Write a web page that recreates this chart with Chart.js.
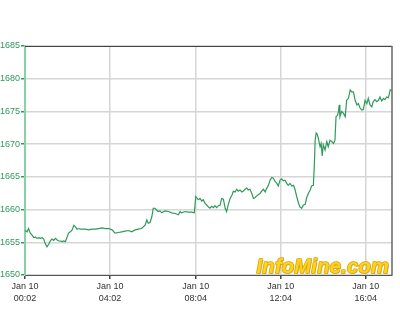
<!DOCTYPE html>
<html>
<head>
<meta charset="utf-8">
<script src="https://cdn.jsdelivr.net/npm/chart.js@4/dist/chart.umd.min.js"></script>
<style>
  body { margin: 0; background: #fff; }
  #wrap { width: 400px; height: 333px; position: relative; }
</style>
</head>
<body>
<div id="wrap"><canvas id="gold"></canvas></div>
<script>
// minutes after midnight, Jan 10
const times = [2, 8, 12, 17, 22, 27, 31, 36, 41, 45, 50, 55, 59, 64, 69, 73, 78, 83, 88, 92,
  97, 102, 107, 111, 116, 121, 125, 130, 135, 140, 144, 149, 154, 158, 163, 172, 182, 191, 201, 210,
  219, 229, 238, 248, 256, 265, 275, 284, 294, 303, 313, 322, 331, 341, 346, 350, 355, 360, 364, 369,
  374, 378, 383, 388, 397, 407, 416, 426, 435, 440, 444, 454, 463, 473, 480, 484, 491, 496, 501, 505,
  510, 520, 524, 529, 534, 538, 543, 548, 553, 557, 562, 567, 571, 576, 581, 586, 590, 595, 600, 604,
  609, 614, 618, 623, 628, 632, 637, 642, 647, 651, 656, 666, 670, 675, 680, 684, 689, 694, 699, 703,
  708, 713, 717, 722, 727, 731, 736, 741, 745, 750, 755, 760, 764, 769, 774, 778, 783, 788, 793, 797,
  802, 807, 811, 816, 819, 821, 824, 827, 830, 835, 838, 841, 844, 849, 854, 858, 863, 868, 873, 877,
  880, 884, 887, 889, 891, 896, 901, 906, 910, 915, 920, 924, 929, 934, 939, 943, 948, 953, 957, 962,
  967, 971, 976, 981, 985, 990, 995, 1000, 1004, 1009, 1014, 1018, 1023, 1028, 1033, 1037]
const prices = [1656.8, 1656.6, 1657.1, 1656.4, 1656.1, 1655.7, 1655.8, 1655.6, 1655.7, 1655.6, 1655.7, 1655.5, 1654.8, 1654.3, 1654.7, 1655.2, 1655.5, 1655.3, 1655.6, 1655.4,
  1655.2, 1655.2, 1655.1, 1655.2, 1655.1, 1655.8, 1656.4, 1656.6, 1656.9, 1657.6, 1657.4, 1657.0, 1657.1, 1657.0, 1657.0, 1657.0, 1656.9, 1657.0, 1657.0, 1657.1,
  1657.2, 1657.1, 1657.1, 1656.9, 1656.4, 1656.5, 1656.6, 1656.7, 1656.8, 1656.6, 1656.9, 1657.0, 1657.1, 1657.6, 1658.4, 1657.9, 1658.0, 1658.9, 1660.2, 1660.2,
  1659.9, 1659.7, 1659.8, 1659.5, 1659.8, 1659.7, 1659.5, 1659.4, 1659.2, 1659.7, 1659.5, 1659.7, 1659.6, 1659.6, 1659.5, 1662.0, 1661.5, 1661.7, 1661.3, 1661.5,
  1661.0, 1660.4, 1660.2, 1660.5, 1660.3, 1660.6, 1660.3, 1660.6, 1660.7, 1661.7, 1661.6, 1660.2, 1659.7, 1660.8, 1661.7, 1662.2, 1662.8, 1662.7, 1663.1, 1662.8,
  1663.0, 1662.7, 1662.8, 1663.1, 1663.3, 1663.0, 1663.1, 1662.5, 1661.7, 1661.8, 1662.1, 1662.5, 1662.8, 1663.1, 1662.7, 1663.2, 1663.7, 1664.5, 1664.9, 1664.8,
  1664.3, 1664.0, 1663.6, 1664.5, 1664.7, 1664.4, 1664.5, 1664.0, 1663.7, 1664.0, 1663.6, 1663.7, 1663.1, 1662.0, 1661.0, 1660.4, 1660.2, 1660.7, 1660.8, 1661.8,
  1662.5, 1663.0, 1663.6, 1663.7, 1667.1, 1670.6, 1671.7, 1671.5, 1670.9, 1669.6, 1670.1, 1668.2, 1669.9, 1669.1, 1670.4, 1669.6, 1670.6, 1670.4, 1670.1, 1670.6,
  1674.2, 1674.4, 1675.0, 1676.0, 1674.2, 1675.0, 1674.7, 1674.2, 1676.7, 1677.0, 1678.3, 1678.0, 1678.0, 1676.7, 1676.0, 1676.2, 1675.5, 1675.2, 1675.3, 1676.7,
  1676.2, 1677.0, 1676.0, 1675.7, 1676.5, 1676.8, 1676.5, 1676.7, 1677.2, 1676.6, 1677.0, 1676.8, 1677.2, 1677.1, 1678.3, 1678.2]
const xTicks = [2, 242, 484, 724, 964]
const dayLabel = 'Jan 10'

function hhmm(m) {
  let h = Math.floor(m / 60), mm = m % 60
  return String(h).padStart(2, '0') + ':' + String(mm).padStart(2, '0')
}

// top + right frame lines and the watermark
const frame = {
  id: 'frame',
  beforeDatasetsDraw(chart) {
    const a = chart.chartArea, c = chart.ctx
    c.save()
    c.font = 'bold italic 20px "Liberation Sans", Arial, sans-serif'
    c.letterSpacing = '0.3px'
    c.textAlign = 'right'
    c.textBaseline = 'alphabetic'
    c.lineJoin = 'round'
    c.fillStyle = 'rgba(120,100,40,0.4)'
    c.fillText('InfoMine.com', a.right - 2, a.bottom - 1)
    c.strokeStyle = '#d9a400'
    c.lineWidth = 1.5
    c.strokeText('InfoMine.com', a.right - 3, a.bottom - 2)
    c.fillStyle = '#ffd21f'
    c.fillText('InfoMine.com', a.right - 3, a.bottom - 2)
    c.restore()
  },
  afterDraw(chart) {
    const a = chart.chartArea, c = chart.ctx
    c.save()
    c.strokeStyle = '#444'
    c.lineWidth = 1
    c.beginPath()
    c.moveTo(a.left, a.top + 0.5)
    c.lineTo(a.right, a.top + 0.5)
    c.stroke()
    c.strokeStyle = '#666'
    c.lineWidth = 1.5
    c.beginPath()
    c.moveTo(a.right, a.top)
    c.lineTo(a.right, a.bottom)
    c.stroke()
    c.restore()
  }
}

new Chart(document.getElementById('gold'), {
  type: 'line',
  data: {
    datasets: [{
      data: times.map((t, i) => ({x: t, y: prices[i]})),
      borderColor: '#2f9a5c',
      borderWidth: 1.2,
      pointRadius: 0,
      tension: 0
    }]
  },
  options: {
    responsive: true,
    maintainAspectRatio: false,
    animation: false,
    layout: { padding: { top: 46, right: 8, left: 0, bottom: 0 } },
    plugins: { legend: { display: false }, tooltip: { enabled: false } },
    scales: {
      x: {
        type: 'linear',
        min: 2,
        max: 1038,
        afterBuildTicks: (s) => { s.ticks = xTicks.map(v => ({value: v})) },
        afterFit: (s) => { s.height = 58 },
        grid: { color: '#d6d6d6', lineWidth: 1.5, tickColor: '#444', tickLength: 4 },
        border: { color: '#555', width: 1 },
        ticks: {
          color: '#333',
          font: { family: '"Liberation Sans", Arial, sans-serif', size: 9, lineHeight: 1.35 },
          padding: 1,
          maxRotation: 0,
          callback: (v) => [dayLabel, hhmm(v)]
        }
      },
      y: {
        min: 1650,
        max: 1685,
        afterFit: (s) => { s.width = 25 },
        grid: { color: '#d6d6d6', lineWidth: 1.5, tickColor: '#2f9a5c', tickLength: 4 },
        border: { color: '#86d2a4', width: 2 },
        ticks: {
          stepSize: 5,
          color: '#2f9a5c',
          padding: 1,
          font: { family: '"Liberation Sans", Arial, sans-serif', size: 9 },
          callback: (v) => String(v)
        }
      }
    }
  },
  plugins: [frame]
});
</script>
</body>
</html>
